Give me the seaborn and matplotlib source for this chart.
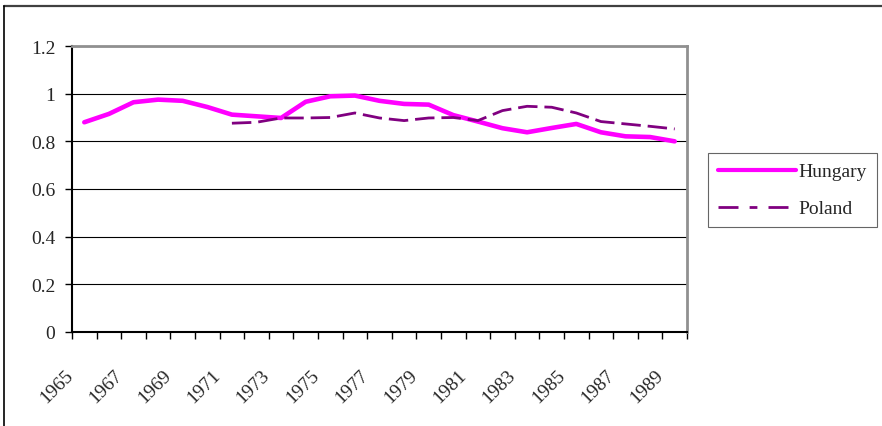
import numpy as np
import pandas as pd
import seaborn as sns
import matplotlib.pyplot as plt
from matplotlib.lines import Line2D
from matplotlib.transforms import ScaledTranslation

years = list(range(1965, 1990))
hungary = [0.88, 0.915, 0.964, 0.975, 0.97, 0.944, 0.912, 0.905, 0.898, 0.966,
           0.989, 0.992, 0.97, 0.957, 0.954, 0.91, 0.883, 0.855, 0.838, 0.856,
           0.873, 0.838, 0.821, 0.818, 0.80]
poland_years = list(range(1971, 1990))
poland = [0.876, 0.88, 0.898, 0.898, 0.9, 0.919, 0.898, 0.887, 0.898, 0.90,
          0.887, 0.929, 0.947, 0.943, 0.919, 0.883, 0.873, 0.863, 0.852]
tick_years = years[::2]

df = pd.concat([
    pd.DataFrame({"year": years, "value": hungary, "country": "Hungary"}),
    pd.DataFrame({"year": poland_years, "value": poland, "country": "Poland"}),
])

sns.set_style("white")
plt.rcParams["font.family"] = ["Liberation Serif", "DejaVu Serif"]

fig = plt.figure(figsize=(8.82, 4.27), dpi=100)
ax = fig.add_axes([72 / 882, 1 - 333 / 427, (687 - 72) / 882, (333 - 47) / 427])

sns.lineplot(data=df, x="year", y="value", hue="country", style="country",
             palette={"Hungary": "#FF00FF", "Poland": "#800080"},
             dashes={"Hungary": "", "Poland": (7, 2.5)},
             size="country", sizes={"Hungary": 3.3, "Poland": 2.0},
             ax=ax, legend=False)

ax.set_xlim(1964.5, 1989.5)
ax.set_ylim(0, 1.2)
ax.set_yticks(np.arange(0, 1.21, 0.2))
ax.set_yticklabels(["0", "0.2", "0.4", "0.6", "0.8", "1", "1.2"], fontsize=14)
ax.yaxis.grid(True, color="black", linewidth=0.8)
ax.set_axisbelow(True)

ax.set_xticks(tick_years)
ax.set_xticklabels([str(y) for y in tick_years], rotation=45, ha="right",
                   va="baseline", rotation_mode="anchor", fontsize=14)
ax.set_xticks(np.arange(1964.5, 1990, 1), minor=True)
ax.tick_params(axis="x", which="major", length=0, pad=0)
ax.tick_params(axis="x", which="minor", length=5, width=1, color="black",
               direction="out", bottom=True)
ax.tick_params(axis="y", length=5, width=1, color="black", direction="out",
               left=True, pad=7)
shift = ScaledTranslation(-11 / 100, -43 / 100, fig.dpi_scale_trans)
for lbl in ax.get_xticklabels():
    lbl.set_transform(lbl.get_transform() + shift)
ax.set_xlabel("")
ax.set_ylabel("")

for side in ["left", "bottom"]:
    ax.spines[side].set_color("black")
    ax.spines[side].set_linewidth(1.5)
for side in ["top", "right"]:
    ax.spines[side].set_color("#909090")
    ax.spines[side].set_linewidth(2)

handles = [Line2D([], [], color="#FF00FF", lw=3.0),
           Line2D([], [], color="#800080", lw=2.0, dashes=(7.2, 4, 2.8, 4))]
leg = fig.legend(handles, ["Hungary", "Poland"], loc="upper left",
                 bbox_to_anchor=(708 / 882, 1 - 154 / 427), fontsize=14,
                 frameon=True, fancybox=False, handlelength=4.0,
                 handletextpad=0.15, borderaxespad=0, labelspacing=1.0,
                 borderpad=0.5)
leg.get_frame().set_edgecolor("#404040")
leg.get_frame().set_linewidth(0.8)

# outer chart frame: only top and left edges are visible in the crop
fig.add_artist(Line2D([4 / 882, 1], [1 - 6.5 / 427, 1 - 6.5 / 427],
                      transform=fig.transFigure, color="#404040", lw=1.6))
fig.add_artist(Line2D([4 / 882, 4 / 882], [0, 1 - 6.5 / 427],
                      transform=fig.transFigure, color="black", lw=1.2))

fig.savefig("out.png", dpi=100)
